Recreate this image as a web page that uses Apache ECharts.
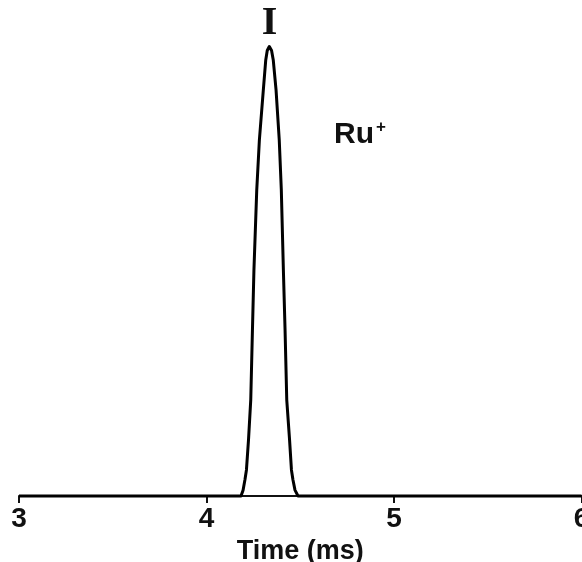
<!DOCTYPE html>
<html>
<head>
<meta charset="utf-8">
<script src="https://cdn.jsdelivr.net/npm/echarts@6/dist/echarts.min.js"></script>
<style>
html,body{margin:0;padding:0;background:#fff;}
#chart{width:582px;height:562px;}
</style>
</head>
<body>
<div id="chart"></div>
<script>
// Time (ms) and normalized intensity
var timeMs = [3.00, 4.184, 4.195, 4.205, 4.213, 4.224, 4.236, 4.245, 4.253, 4.268, 4.282, 4.303, 4.316, 4.324, 4.335, 4.347, 4.356, 4.371, 4.388, 4.399, 4.410, 4.419, 4.428, 4.443, 4.453, 4.461, 4.472, 4.488, 6.00];
var intensity = [0, 0, 0.013, 0.036, 0.058, 0.125, 0.214, 0.369, 0.503, 0.681, 0.792, 0.903, 0.970, 0.991, 1.0, 0.991, 0.970, 0.903, 0.792, 0.681, 0.503, 0.369, 0.214, 0.125, 0.058, 0.036, 0.013, 0, 0];
var xTicks = [3, 4, 5, 6];
var axisTitle = 'Time (ms)';
var peakLabel = 'I';
var ionLabel = 'Ru';

var pts = timeMs.map(function (t, i) { return [t, intensity[i]]; });

var chart = echarts.init(document.getElementById('chart'));
chart.setOption({
  animation: false,
  backgroundColor: '#fff',
  grid: { left: 19, right: 0.5, top: 46.5, bottom: 66, containLabel: false, outerBoundsMode: 'none' },
  xAxis: {
    type: 'value', min: xTicks[0], max: xTicks[xTicks.length - 1], interval: 1,
    name: axisTitle, nameLocation: 'middle', nameGap: 38,
    nameTextStyle: { fontFamily: 'Liberation Sans', fontWeight: 'bold', fontSize: 27, color: '#111' },
    axisLine: { show: true, lineStyle: { color: '#111', width: 2 } },
    axisTick: { show: true, length: 7, lineStyle: { color: '#111', width: 2 } },
    axisLabel: { fontFamily: 'Liberation Sans', fontWeight: 'bold', fontSize: 28, color: '#111', margin: 9, showMinLabel: true, showMaxLabel: true, hideOverlap: false },
    splitLine: { show: false }
  },
  yAxis: { type: 'value', min: 0, max: 1, show: false },
  series: [{
    type: 'line', data: pts, smooth: false, symbol: 'none', clip: false,
    lineStyle: { color: '#000', width: 3, join: 'round' }
  }],
  graphic: [
    { type: 'text', x: 269.5, y: 4, style: { text: peakLabel, font: 'bold 40px "Liberation Serif"', fill: '#111', align: 'center', verticalAlign: 'top' } },
    { type: 'text', x: 334, y: 119, style: {
        text: '{a|' + ionLabel + '}{b|+}',
        verticalAlign: 'top',
        rich: {
          a: { fontFamily: 'Liberation Sans', fontWeight: 'bold', fontSize: 30, fill: '#111' },
          b: { fontFamily: 'Liberation Sans', fontWeight: 'bold', fontSize: 17, fill: '#111', verticalAlign: 'top', padding: [0,0,14,2] }
        }
      } }
  ]
});
</script>
</body>
</html>
